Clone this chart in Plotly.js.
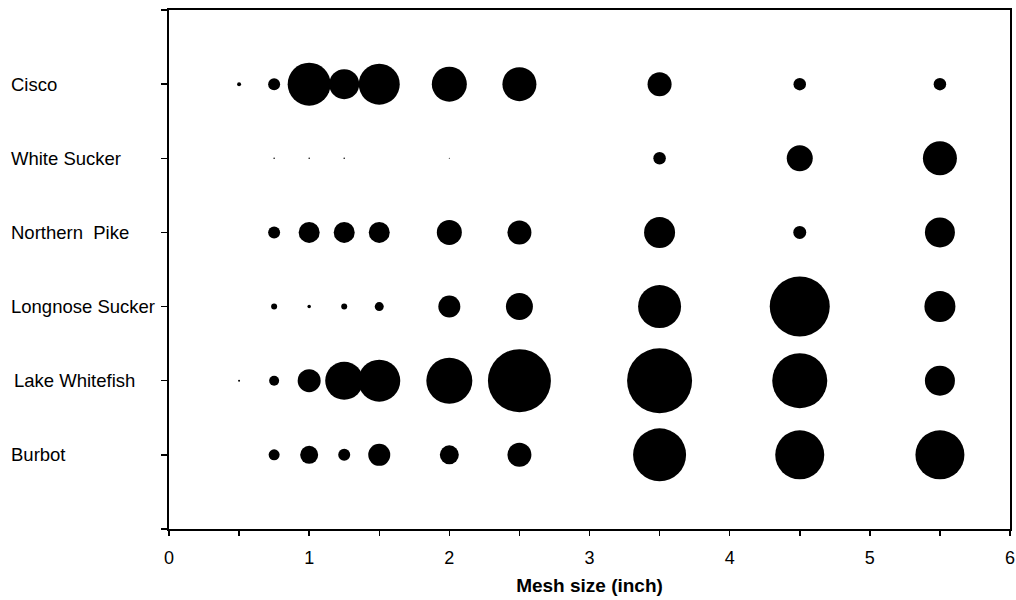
<!DOCTYPE html>
<html>
<head>
<meta charset="utf-8">
<script src="https://cdn.plot.ly/plotly-3.0.1.min.js"></script>
<style>html,body{margin:0;padding:0;background:#fff;}#chart{width:1016px;height:600px;}</style>
</head>
<body>
<div id="chart"></div>
<script>
// Mesh sizes (inch)
const meshSizes = [0.5, 0.75, 1, 1.25, 1.5, 2, 2.5, 3.5, 4.5, 5.5];
// Species (top to bottom) and their row positions
const species = ["Cisco", "White Sucker", "Northern\u00a0 Pike", "Longnose Sucker", "Lake Whitefish", "Burbot"];
const rowPos = [6, 5, 4, 3, 2, 1];
// Bubble sizes (relative catch)
const cisco          = [4, 12, 43, 30, 41, 35, 34, 24, 12.5, 12.5];
const whiteSucker    = [null, 1.5, 1.5, 1.5, null, 1, null, 12.5, 26, 34];
const northernPike   = [null, 12, 21, 21, 21, 25, 24, 31, 13, 30];
const longnoseSucker = [null, 6, 3.5, 6, 9, 22, 27, 43, 60, 31];
const lakeWhitefish  = [2, 10, 23, 38, 42, 46, 63, 65, 55, 30];
const burbot         = [null, 11, 18, 12, 22, 19, 24, 53, 49, 49];
const xTickVals = [0, 1, 2, 3, 4, 5, 6];

const seriesList = [cisco, whiteSucker, northernPike, longnoseSucker, lakeWhitefish, burbot];

const traces = seriesList.map((vals, i) => {
  const xs = [], ys = [], ss = [];
  vals.forEach((v, j) => {
    if (v !== null && v > 0) { xs.push(meshSizes[j]); ys.push(rowPos[i]); ss.push(v); }
  });
  return {
    type: "scatter", mode: "markers", x: xs, y: ys, name: species[i],
    marker: {size: ss, sizemode: "diameter", sizeref: 1, color: "#000000", opacity: 1, line: {width: 0}},
    opacity: 1,
    hoverinfo: "skip"
  };
});

const annotations = species.map((s, i) => ({
  text: s, xref: "paper", yref: "y", x: (i === 4 ? (12 - 169) : (9 - 169)) / 841, y: rowPos[i],
  xanchor: "left", yanchor: "middle", showarrow: false,
  font: {family: "Liberation Sans, Arial, sans-serif", size: 18.5, color: "#000"}
}));

const layout = {
  width: 1016, height: 600,
  margin: {l: 169, r: 6, t: 10, b: 71},
  paper_bgcolor: "#fff", plot_bgcolor: "#fff",
  showlegend: false,
  xaxis: {
    range: [0, 6], tickvals: xTickVals, ticktext: xTickVals.map(String),
    showgrid: false, zeroline: false, showline: true, linecolor: "#000", linewidth: 2,
    mirror: true, ticks: "outside", ticklen: 5, tickwidth: 1.5, tickcolor: "#000",
    minor: {dtick: 0.5, tick0: 0, ticks: "outside", ticklen: 5, tickwidth: 1.5, tickcolor: "#000", showgrid: false},
    ticklabelstandoff: 6,
    tickfont: {family: "Liberation Sans, Arial, sans-serif", size: 18, color: "#000"},
    title: {text: "<b>Mesh size (inch)</b>", font: {family: "Liberation Sans, Arial, sans-serif", size: 19, color: "#000"}, standoff: 12}
  },
  yaxis: {
    range: [0, 7], tickvals: [0, 1, 2, 3, 4, 5, 6, 7], ticktext: ["", "", "", "", "", "", "", ""],
    showgrid: false, zeroline: false, showline: true, linecolor: "#000", linewidth: 2,
    mirror: true, ticks: "outside", ticklen: 6, tickwidth: 1.5, tickcolor: "#000"
  },
  annotations: annotations
};

Plotly.newPlot("chart", traces, layout, {displayModeBar: false, staticPlot: true});
</script>
</body>
</html>
